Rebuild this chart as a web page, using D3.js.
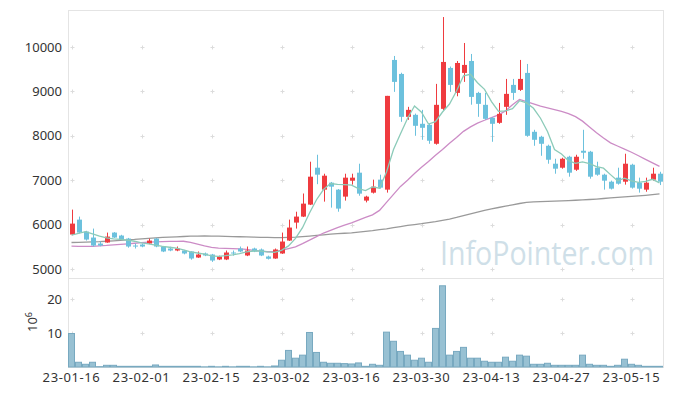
<!DOCTYPE html>
<html>
<head>
<meta charset="utf-8">
<script src="https://cdn.jsdelivr.net/npm/d3@7/dist/d3.min.js"></script>
<style>
  body { margin: 0; background: #fff; }
  svg text { font-family: "Noto Sans", "Open Sans", sans-serif; }
</style>
</head>
<body>
<svg id="chart" width="673" height="396"></svg>
<script>
// daily candles, 2023-01-16 .. 2023-05-19 (trading days)
const open  = [5776,6112,5843,5708,5573,5596,5820,5753,5685,5528,5551,5573,5685,5506,5461,5416,5416,5394,5258,5349,
               5326,5214,5214,5371,5461,5304,5461,5439,5281,5236,5349,5640,6045,6180,6450,7281,6787,6944,6787,6630,
               6989,7169,6540,6719,7012,6787,9708,9393,8427,8472,8270,8247,7820,8607,9528,8966,9416,9685,8966,8697,
               8404,8292,8652,9146,9034,9416,8090,7978,7775,7371,7281,7528,7236,7663,7641,7281,7124,6966,7057,6966,
               7348,6944,6787,7012,7146];
const high  = [6337,6180,5860,5910,5620,5820,5830,5770,5700,5573,5573,5685,5700,5520,5500,5506,5430,5400,5394,5370,
               5340,5300,5416,5416,5506,5506,5480,5461,5300,5461,5820,6112,6290,6700,7416,7573,7146,6960,6800,7146,
               7146,7371,6650,7012,7124,8899,9798,9420,8652,8500,8584,8270,9169,10674,9560,9685,10090,9843,8990,8966,
               8420,8740,9281,9281,9708,9618,8135,8000,7800,7483,7506,7550,7573,8135,7660,7416,7146,6990,7281,7596,
               7370,7057,7057,7281,7190];
const low   = [5760,5800,5640,5506,5510,5590,5700,5650,5480,5461,5490,5560,5490,5380,5400,5400,5330,5210,5250,5290,
               5160,5200,5200,5300,5380,5290,5380,5290,5214,5230,5340,5630,5910,6170,6440,6910,6517,6382,6290,6540,
               6900,6650,6500,6700,6810,6720,8989,8315,8360,8000,7910,7820,7800,8580,8989,8890,9214,8700,8427,8360,
               7865,8270,8472,8809,9010,7978,7775,7550,7371,7146,7259,7079,7210,7483,7034,7100,6787,6790,6900,6900,
               6810,6720,6740,6990,6890];
const close = [6022,5820,5663,5528,5528,5730,5708,5663,5506,5506,5506,5640,5506,5394,5416,5461,5349,5236,5326,5304,
               5191,5281,5371,5349,5394,5416,5394,5304,5230,5439,5618,5933,6180,6472,7079,7124,7101,6854,6360,7057,
               7057,6697,6630,6854,6832,8899,9214,8427,8584,8225,8180,7888,8697,9663,9146,9640,9596,8876,8719,8382,
               8270,8494,8944,8966,9281,8000,7910,7820,7461,7259,7483,7169,7528,7618,7079,7124,6989,6809,6921,7371,
               6832,6809,6944,7146,6966];
// moving averages
const ma5  = [5760,5800,5840,5790,5740,5700,5680,5665,5650,5625,5590,5565,5535,5510,5490,5470,5430,5385,5360,5335,
              5295,5285,5300,5320,5345,5385,5405,5410,5385,5375,5420,5520,5690,5930,6260,6560,6790,6925,6905,6900,
              6890,6810,6765,6850,6820,7185,7690,8045,8390,8670,8530,8265,8320,8535,8715,9010,9350,9385,9195,9045,
              8770,8550,8560,8610,8790,8740,8620,8395,8095,7690,7590,7440,7380,7410,7375,7305,7270,7125,6985,7045,
              6985,6950,6975,7020,6940];
const ma20 = [5513,5510,5508,5510,5520,5530,5545,5555,5566,5580,5595,5605,5610,5615,5620,5623,5625,5600,5560,5520,
              5485,5470,5465,5460,5455,5440,5420,5401,5388,5395,5420,5460,5500,5570,5650,5730,5810,5870,5930,5990,
              6040,6100,6160,6220,6320,6500,6680,6860,7000,7150,7290,7420,7560,7690,7830,7960,8100,8200,8285,8350,
              8410,8470,8560,8700,8820,8770,8720,8670,8630,8590,8550,8500,8430,8330,8200,8070,7950,7840,7770,7700,
              7630,7550,7470,7390,7310];
const ma60 = [5596,5600,5605,5610,5615,5625,5635,5645,5655,5665,5680,5690,5700,5710,5718,5725,5732,5738,5742,5745,
              5742,5738,5734,5730,5726,5722,5718,5714,5710,5708,5708,5712,5718,5728,5740,5755,5770,5785,5795,5805,
              5815,5830,5845,5862,5885,5905,5930,5955,5980,6000,6020,6045,6068,6095,6125,6160,6200,6240,6280,6320,
              6355,6385,6415,6445,6475,6500,6510,6518,6524,6530,6535,6540,6548,6556,6565,6575,6588,6600,6612,6624,
              6636,6648,6660,6675,6690];
// volume, x 10^6
const volume = [9.9,1.4,0.8,1.4,0.1,0.5,0.5,0.2,0.2,0.2,0.2,0.2,0.6,0.2,0.2,0.2,0.2,0.2,0.2,0.05,
                0.2,0.05,0.2,0.05,0.2,0.2,0.05,0.2,0.05,0.3,2.0,4.9,2.6,3.5,10.2,4.3,1.4,1.1,1.1,1.0,
                0.9,1.2,0.2,0.8,0.5,10.3,7.6,4.6,3.5,2.0,2.6,1.4,11.4,24.0,3.5,4.6,5.8,2.6,2.6,1.7,
                1.4,1.4,2.9,1.7,3.5,3.2,0.8,0.8,1.1,0.5,0.5,0.5,0.5,3.5,0.8,0.5,0.5,0.2,0.5,2.3,
                0.8,0.5,0.2,0.2,0.2];
const tickIdx    = [0,10,20,30,40,50,60,70,80];
const tickLabels = ["23-01-16","23-02-01","23-02-15","23-03-02","23-03-16","23-03-30","23-04-13","23-04-27","23-05-15"];
const priceTicks = [5000,6000,7000,8000,9000,10000];
const volTicks   = [10,20];

const svg = d3.select("#chart");
const L = 68, R = 663, T = 10, MB = 278, VB = 367;
const idx = d3.range(close.length);

const x = d3.scaleBand().domain(idx).range([L, R]).padding(0);
const cx = i => x(i) + x.bandwidth() / 2;
const y = d3.scaleLinear().domain([4797, 10833]).range([MB, T]);
const yv = d3.scaleLinear().domain([0, 26.3]).range([VB, MB]);

const upCol = "#ef3b3f", downCol = "#6cc1dd";

// frames
svg.append("rect").attr("x", L + 0.5).attr("y", T + 0.5).attr("width", R - L).attr("height", MB - T)
  .attr("fill", "none").attr("stroke", "#e4e4e4");
svg.append("rect").attr("x", L + 0.5).attr("y", MB + 0.5).attr("width", R - L).attr("height", VB - MB)
  .attr("fill", "none").attr("stroke", "#e4e4e4");

// plus-shaped grid marks
function crosses(ys) {
  const g = svg.append("g").attr("stroke", "#dcdcdc").attr("stroke-width", 1);
  tickIdx.forEach(i => ys.forEach(yy => {
    const px = Math.round(cx(i)) + 0.5, py = Math.round(yy) + 0.5;
    g.append("line").attr("x1", px - 2).attr("x2", px + 2).attr("y1", py).attr("y2", py);
    g.append("line").attr("x1", px).attr("x2", px).attr("y1", py - 2).attr("y2", py + 2);
  }));
}
crosses(priceTicks.map(y));
crosses(volTicks.map(yv));

// watermark
svg.append("text").attr("x", 440).attr("y", 265)
  .attr("textLength", 214).attr("lengthAdjust", "spacingAndGlyphs")
  .style("font-family", "'Open Sans', 'Noto Sans', sans-serif")
  .style("font-size", "32px").attr("fill", "#cfdfe8").text("InfoPointer.com");

// moving averages
const line = arr => d3.line().x(i => cx(i)).y(i => y(arr[i]))(idx);
svg.append("path").attr("d", line(ma60)).attr("fill", "none").attr("stroke", "#9a9a9a").attr("stroke-width", 1.3);
svg.append("path").attr("d", line(ma20)).attr("fill", "none").attr("stroke", "#cc8cc6").attr("stroke-width", 1.3);

// candles
const c = svg.append("g").selectAll("g").data(idx).join("g");
c.append("line")
  .attr("x1", i => Math.round(cx(i)) + 0.5).attr("x2", i => Math.round(cx(i)) + 0.5)
  .attr("y1", i => y(high[i])).attr("y2", i => y(low[i]))
  .attr("stroke", i => close[i] >= open[i] ? upCol : downCol).attr("stroke-width", 1);
c.append("rect")
  .attr("x", i => Math.round(cx(i)) - 2)
  .attr("width", 5)
  .attr("y", i => y(Math.max(open[i], close[i])))
  .attr("height", i => Math.max(1, Math.abs(y(open[i]) - y(close[i]))))
  .attr("fill", i => close[i] >= open[i] ? upCol : downCol);

svg.append("path").attr("d", line(ma5)).attr("fill", "none").attr("stroke", "#8ccbb9").attr("stroke-width", 1.3);

// volume bars
svg.append("g").selectAll("rect").data(idx).join("rect")
  .attr("x", i => x(i) + 0.5).attr("width", x.bandwidth() - 1)
  .attr("y", i => yv(volume[i])).attr("height", i => VB - yv(volume[i]))
  .attr("fill", "#98c1d3").attr("stroke", "#78a9c0").attr("stroke-width", 1);

// axes
const yAxis = svg.append("g").attr("transform", `translate(${L},0)`)
  .call(d3.axisLeft(y).tickValues(priceTicks).tickFormat(d3.format("d")).tickSize(0).tickPadding(6));
const vAxis = svg.append("g").attr("transform", `translate(${L},0)`)
  .call(d3.axisLeft(yv).tickValues(volTicks).tickFormat(d3.format("d")).tickSize(0).tickPadding(6));
const xAxis = svg.append("g").attr("transform", `translate(0,${VB})`)
  .call(d3.axisBottom(x).tickValues(tickIdx).tickFormat((d, k) => tickLabels[k]).tickSize(0).tickPadding(6));
[yAxis, vAxis, xAxis].forEach(a => {
  a.select(".domain").remove();
  a.selectAll("text").attr("fill", "#333").style("font-size", "13px");
});
xAxis.selectAll("text").style("letter-spacing", "0.6px");

// volume unit label
const u = svg.append("text").attr("transform", "translate(37,322) rotate(-90)")
  .attr("text-anchor", "middle").attr("fill", "#333").style("font-size", "13px");
u.append("tspan").text("10");
u.append("tspan").attr("dy", -5).style("font-size", "9px").text("6");
</script>
</body>
</html>
